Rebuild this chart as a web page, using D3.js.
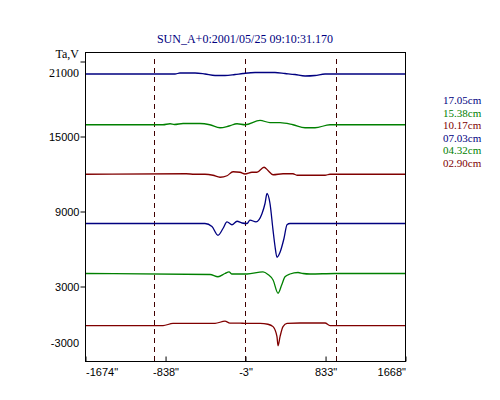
<!DOCTYPE html>
<html lang="en">
  <head>
    <meta charset="UTF-8" />
    <title>SUN_A</title>
    <script src="https://d3js.org/d3.v7.min.js" charset="utf-8"></script>
    <style>
      body { margin: 0; background: #fff; }
    </style>
  </head>
  <body>
    <div id="chart"></div>
    <script>
      // arcsec positions / Ta,V values, one pair of arrays per wavelength
      const x1705 = [-1674, -734, -682, -525, -421, -316, -212, -107, -24, 102, 206, 310, 415, 519, 624, 728, 833, 1668];
      const y1705 = [19960, 19960, 20040, 20040, 19960, 19840, 19840, 19920, 20000, 20080, 20080, 20080, 20000, 19920, 19800, 19840, 19960, 19960];

      const x1538 = [-1674, -860, -786, -740, -650, -473, -370, -264, -170, -86, -3, 154, 258, 363, 498, 624, 728, 885, 1668];
      const y1538 = [15900, 15900, 15980, 15920, 16000, 16000, 15900, 15660, 15800, 15980, 15900, 16250, 16070, 16070, 15900, 15660, 15660, 15900, 15900];

      const x1017 = [-1674, -619, -530, -421, -337, -264, -191, -128, -55, -3, 70, 122, 196, 237, 290, 394, 498, 540, 833, 885, 1668];
      const y1017 = [11940, 11980, 11940, 11940, 11860, 11700, 11820, 12140, 12100, 11960, 12100, 12100, 12500, 12240, 11900, 11980, 11980, 11860, 11860, 11940, 11940];

      const x0703 = [-1674, -577, -421, -348, -285, -233, -191, -139, -86, -34, 18, 49, 112, 175, 206, 227, 258, 290, 310, 331, 363, 404, 436, 467, 1668];
      const y0703 = [8000, 8000, 8000, 7760, 7060, 7600, 8130, 7900, 8180, 8040, 8000, 8270, 8130, 8800, 9600, 10400, 9600, 7450, 6200, 5300, 5700, 6800, 7900, 8000, 8000];

      const x0432 = [-1674, -368, -285, -212, -170, -139, 18, 185, 237, 290, 342, 380, 415, 467, 551, 603, 676, 937, 1668];
      const y0432 = [4000, 3920, 3740, 4000, 4130, 3960, 3960, 4130, 3920, 3480, 2420, 3080, 3740, 3960, 4080, 4000, 3960, 4000, 4000];

      const x0290 = [-1674, -859, -755, -316, -212, -160, -55, -3, 154, 237, 290, 331, 342, 363, 394, 436, 572, 833, 885, 1668];
      const y0290 = [-170, -170, 10, 10, 190, 30, 30, 10, 10, -60, -250, -1050, -1780, -1050, -250, 10, 40, 40, -170, -170];

      const legendLabels = ["17.05cm", "15.38cm", "10.17cm", "07.03cm", "04.32cm", "02.90cm"];
      const colors = ["#000080", "#008000", "#800000", "#000080", "#008000", "#800000"];
      const xTicks = [-1674, -838, -3, 833, 1668];
      const yTicks = [3000, 9000, 15000, 21000];
      const limbLines = [-953, -3, 947];
      const title = "SUN_A+0:2001/05/25 09:10:31.170";

      const series = [
        [x1705, y1705], [x1538, y1538], [x1017, y1017],
        [x0703, y0703], [x0432, y0432], [x0290, y0290]
      ];

      const width = 500;
      const height = 400;
      const mLeft = 85, mRight = 405, mTop = 52, mBottom = 361;

      const svg = d3.select("#chart")
        .append("svg")
        .attr("width", width)
        .attr("height", height)
        .style("background", "#fff");

      const x = d3.scaleLinear().domain([-1674, 1668]).range([mLeft, mRight]);
      const y = d3.scaleLinear().domain([-3000, 21720]).range([mBottom, mTop]);

      // title
      svg.append("text")
        .attr("x", 245)
        .attr("y", 43)
        .attr("text-anchor", "middle")
        .style("font-family", "'Liberation Serif', serif")
        .style("font-size", "12px")
        .style("fill", "#000080")
        .text(title);

      // dashed limb / centre lines
      svg.selectAll(".limb")
        .data(limbLines)
        .enter()
        .append("line")
        .attr("x1", d => Math.round(x(d)) + 0.5)
        .attr("x2", d => Math.round(x(d)) + 0.5)
        .attr("y1", mTop + 7)
        .attr("y2", mBottom)
        .style("stroke", "#400000")
        .style("stroke-dasharray", "5,4")
        .style("shape-rendering", "crispEdges");

      // traces
      const line = d3.line()
        .x(d => x(d[0]))
        .y(d => y(d[1]))
        .curve(d3.curveMonotoneX);

      series.forEach((s, i) => {
        const pts = s[0].map((v, j) => [v, s[1][j]]);
        svg.append("path")
          .datum(pts)
          .attr("d", line)
          .style("fill", "none")
          .style("stroke", colors[i])
          .style("stroke-width", 1.3);
      });

      // frame
      svg.append("rect")
        .attr("x", mLeft + 0.5)
        .attr("y", mTop + 0.5)
        .attr("width", mRight - mLeft)
        .attr("height", mBottom - mTop)
        .style("fill", "none")
        .style("stroke", "#000")
        .style("shape-rendering", "crispEdges");

      // y axis
      const yAxis = d3.axisLeft(y)
        .tickValues(yTicks)
        .tickSize(5)
        .tickPadding(1)
        .tickFormat(d => (d === 21000 ? "" : d));

      const gy = svg.append("g")
        .attr("transform", "translate(" + (mLeft + 0.5) + ",0.5)")
        .call(yAxis);
      gy.select(".domain").remove();
      gy.selectAll("text")
        .style("font-family", "'Liberation Sans', sans-serif")
        .style("font-size", "11px")
        .style("fill", "#000");

      svg.append("text")
        .attr("x", 79)
        .attr("y", y(21000) - 3)
        .attr("text-anchor", "end")
        .style("font-family", "'Liberation Serif', serif")
        .style("font-size", "12px")
        .text("Ta,V");

      svg.append("text")
        .attr("x", 79)
        .attr("y", y(21000) + 16)
        .attr("text-anchor", "end")
        .style("font-family", "'Liberation Serif', serif")
        .style("font-size", "12px")
        .text("21000");

      svg.append("text")
        .attr("x", 79)
        .attr("y", y(-3000) - 14)
        .attr("text-anchor", "end")
        .style("font-family", "'Liberation Sans', sans-serif")
        .style("font-size", "11px")
        .text("-3000");

      // x axis, ticks pointing inwards
      const xAxis = d3.axisBottom(x)
        .tickValues(xTicks)
        .tickSize(-5)
        .tickPadding(7)
        .tickFormat(d => d + "\"");

      const gx = svg.append("g")
        .attr("transform", "translate(0.5," + (mBottom + 0.5) + ")")
        .call(xAxis);
      gx.select(".domain").remove();
      gx.selectAll("text")
        .style("font-family", "'Liberation Sans', sans-serif")
        .style("font-size", "11px")
        .style("fill", "#000")
        .attr("text-anchor", (d, i) => (i === 0 ? "start" : i === xTicks.length - 1 ? "end" : "middle"));

      // legend
      svg.selectAll(".legend")
        .data(legendLabels)
        .enter()
        .append("text")
        .attr("x", 443)
        .attr("y", (d, i) => 104 + i * 12.6)
        .style("font-family", "'Liberation Serif', serif")
        .style("font-size", "11px")
        .style("fill", (d, i) => colors[i])
        .text(d => d);
    </script>
  </body>
</html>
